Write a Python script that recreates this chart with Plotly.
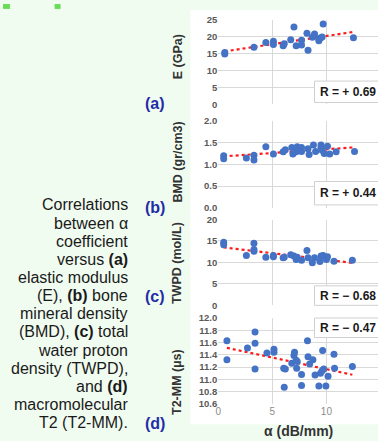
import numpy as np
import plotly.graph_objects as go

# ---------------- data ----------------
alpha_a = [0.6, 0.6, 3.3, 4.4, 5.1, 5.1, 6.0, 6.1, 6.7, 7.0, 7.2, 7.7, 7.7, 8.2, 8.3, 8.7, 8.9, 9.3, 9.3, 9.45, 9.6, 9.7, 12.5]
E_gpa = [15.3, 14.9, 16.9, 18.3, 18.6, 17.7, 17.3, 17.9, 19.1, 22.8, 17.3, 18.9, 17.5, 21.0, 16.0, 19.8, 20.8, 19.4, 18.8, 19.6, 19.9, 23.7, 19.7]

alpha_b = [0.5, 0.5, 2.6, 3.3, 3.3, 4.4, 5.1, 6.0, 6.2, 6.8, 6.9, 7.3, 7.2, 7.7, 7.7, 8.3, 8.4, 8.8, 9.0, 9.5, 9.5, 9.6, 9.8, 10.1, 10.3, 10.9, 12.6]
bmd = [1.20, 1.13, 1.15, 1.21, 1.10, 1.41, 1.24, 1.29, 1.34, 1.39, 1.24, 1.41, 1.29, 1.39, 1.30, 1.36, 1.23, 1.45, 1.30, 1.45, 1.39, 1.33, 1.25, 1.42, 1.24, 1.29, 1.30]

alpha_c = [0.5, 0.5, 2.6, 3.3, 3.3, 3.3, 4.4, 5.1, 5.1, 6.0, 6.1, 6.7, 7.0, 7.2, 7.3, 7.7, 8.2, 8.3, 8.7, 8.9, 9.4, 9.5, 9.7, 10.0, 10.1, 10.7, 12.4]
twpd = [14.7, 14.1, 11.6, 14.5, 13.0, 12.6, 11.2, 11.6, 11.3, 11.1, 11.2, 11.8, 11.5, 10.7, 11.2, 10.5, 12.8, 11.1, 9.9, 11.1, 10.2, 11.5, 11.6, 10.7, 11.3, 10.3, 10.5]

alpha_d = [0.8, 0.8, 2.7, 3.4, 3.4, 3.4, 4.5, 5.15, 5.15, 6.05, 6.2, 6.1, 6.8, 7.0, 7.05, 7.2, 7.3, 7.25, 7.7, 7.7,
           8.25, 8.3, 8.45, 8.75, 8.95, 9.3, 9.45, 9.6, 9.75, 9.65, 9.95, 10.15, 10.7, 10.75, 12.4]
t2mm = [11.63, 11.32, 11.51, 11.77, 11.59, 11.17, 11.43, 11.49, 11.44, 11.18, 11.17, 10.87, 11.26, 11.39, 11.44, 11.31, 11.29, 11.18, 11.08, 10.90,
        11.63, 11.37, 11.25, 11.32, 11.07, 10.89, 11.10, 11.14, 11.17, 11.47, 10.89, 11.05, 11.41, 11.18, 11.21]

r_labels = ["R = + 0.69", "R = + 0.44", "R = \u2212 0.68", "R = \u2212 0.47"]
y_titles = ["E (GPa)", "BMD (gr/cm3)", "TWPD (mol/L)", "T2-MM (\u00b5s)"]
panel_tags = ["(a)", "(b)", "(c)", "(d)"]
y_ticks = [[0, 5, 10, 15, 20, 25], [0.0, 0.5, 1.0, 1.5, 2.0], [0, 5, 10, 15, 20], [10.6, 10.8, 11.0, 11.2, 11.4, 11.6, 11.8, 12.0]]
y_fmt = ["d", ".1f", "d", ".1f"]
x_ticks = [0, 5, 10, 15]
x_title = "\u03b1 (dB/mm)"
caption_lines = ["Correlations", "between \u03b1", "coefficient", "versus <b>(a)</b>", "elastic modulus",
                 "(E), <b>(b)</b> bone", "mineral density", "(BMD), <b>(c)</b> total", "water proton",
                 "density (TWPD),", "and <b>(d)</b>", "macromolecular", "T2 (T2-MM)."]

# ---------------- layout helpers ----------------
W, H = 378, 441
def px(x): return x / W
def py(y): return 1 - y / H

BG = "#f1fcf1"
FONT = "Liberation Sans, Arial, sans-serif"
GRID = "#d9d9d9"

xs = [alpha_a, alpha_b, alpha_c, alpha_d]
ys = [E_gpa, bmd, twpd, t2mm]
panels_px = [(14, 101), (118, 207), (219, 307), (320, 408)]   # top, bottom of plot areas
r_box = [(77, 99), (180, 204), (287, 307), (320, 340)]
tag_y = [100, 207, 298, 428]
ytitle_y = [52, 160, 264, 386]

x_left, x_scale = 217.0, 10.9
x_max = (W - x_left) / x_scale

fig = go.Figure()
layout = dict(width=W, height=H, margin=dict(l=0, r=0, t=0, b=0),
              paper_bgcolor=BG, plot_bgcolor="white", showlegend=False,
              font=dict(family=FONT))
annotations = []
shapes = [
    dict(type="rect", xref="paper", yref="paper", x0=px(189), x1=px(W + 5), y0=py(429), y1=py(4),
         fillcolor="white", line=dict(width=0), layer="below"),
    dict(type="rect", xref="paper", yref="paper", x0=px(0), x1=px(7), y0=py(3), y1=py(-2),
         fillcolor="#66dd55", line=dict(width=0), layer="below"),
    dict(type="rect", xref="paper", yref="paper", x0=px(52), x1=px(58), y0=py(3), y1=py(-2),
         fillcolor="#66dd55", line=dict(width=0), layer="below"),
]

for i in range(4):
    n = "" if i == 0 else str(i + 1)
    xa, ya = "x" + n, "y" + n
    top, bot = panels_px[i]
    x = np.array(xs[i]); y = np.array(ys[i])
    m, b = np.polyfit(x, y, 1)
    xl = np.array([x.min(), x.max()])
    fig.add_trace(go.Scatter(x=xl, y=m * xl + b, mode="lines", xaxis=xa, yaxis=ya,
                             line=dict(color="#ff1a1a", width=2.2, dash="dot"), hoverinfo="skip"))
    fig.add_trace(go.Scatter(x=x, y=y, mode="markers", xaxis=xa, yaxis=ya,
                             marker=dict(color="#4472c4", size=7, line=dict(width=0))))
    last = (i == 3)
    layout["xaxis" + n] = dict(domain=[px(x_left), 1.0], range=[0, x_max], anchor=ya,
                               tickvals=x_ticks, showticklabels=last, showgrid=True, gridcolor=GRID,
                               gridwidth=1, zeroline=False, showline=False, ticks="",
                               tickfont=dict(family=FONT, size=10, color="#8c8c8c"))
    yt = y_ticks[i]
    layout["yaxis" + n] = dict(domain=[py(bot), py(top)], range=[yt[0], yt[-1]], anchor=xa,
                               tickvals=yt, tickformat=y_fmt[i], showgrid=True, gridcolor=GRID,
                               gridwidth=1, zeroline=False, showline=False, ticks="",
                               tickfont=dict(family=FONT, size=9.5, color="#595959", weight="bold"))
    b0, b1 = r_box[i]
    shapes.append(dict(type="rect", xref="paper", yref="paper", x0=px(314), x1=px(W + 10),
                       y0=py(b1), y1=py(b0), fillcolor="white", line=dict(color="#d0d0d0", width=1),
                       layer="above"))
    annotations.append(dict(xref="paper", yref="paper", x=px(318), y=py((b0 + b1) / 2), xanchor="left",
                            yanchor="middle", text="<b>" + r_labels[i] + "</b>",
                            showarrow=False, font=dict(family=FONT, size=12, color="#1a1a1a")))
    annotations.append(dict(xref="paper", yref="paper", x=px(153), y=py(tag_y[i]), xanchor="center",
                            yanchor="middle", text="<b>" + panel_tags[i] + "</b>", showarrow=False,
                            font=dict(family=FONT, size=16, color="#1f2ea6")))
    annotations.append(dict(xref="paper", yref="paper", x=px(176), y=py(ytitle_y[i]), xanchor="center",
                            yanchor="middle", text="<b>" + y_titles[i] + "</b>", textangle=-90,
                            showarrow=False, font=dict(family=FONT, size=12.5, color="#333333")))

annotations.append(dict(xref="paper", yref="paper", x=px(298), y=py(436), xanchor="center", yanchor="middle",
                        text="<b>" + x_title + "</b>", showarrow=False,
                        font=dict(family=FONT, size=14, color="#333333")))

for k, line in enumerate(caption_lines):
    annotations.append(dict(xref="paper", yref="paper", x=px(128), y=py(204 + k * 18.6), xanchor="right",
                            yanchor="middle", text=line, showarrow=False,
                            font=dict(family=FONT, size=16, color="#1a1a1a")))

layout["annotations"] = annotations
layout["shapes"] = shapes
fig.update_layout(**layout)
fig.write_html("out.html", config={"displayModeBar": False},
               post_script="document.body.style.margin='0';document.body.style.padding='0';")
